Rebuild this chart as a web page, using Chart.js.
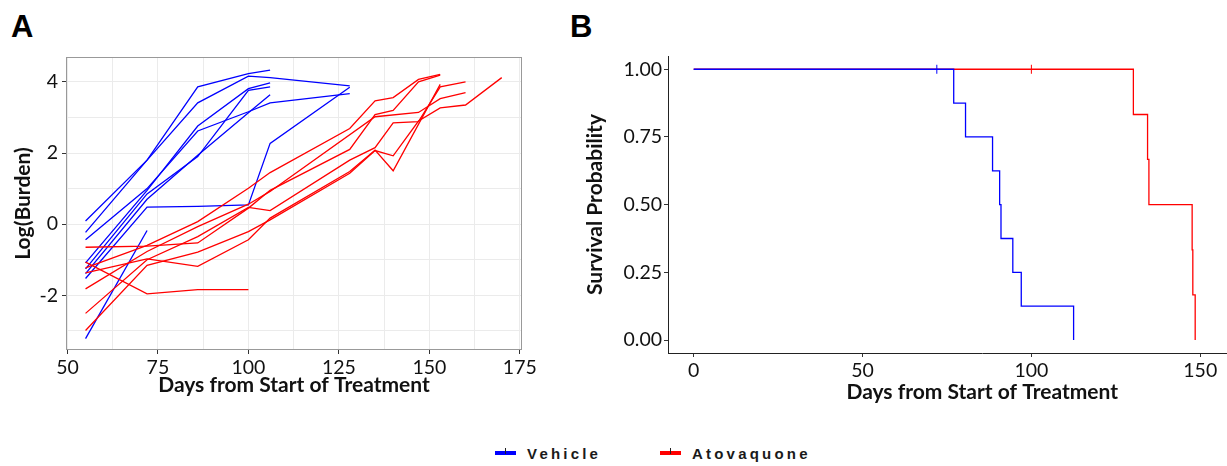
<!DOCTYPE html>
<html>
<head>
<meta charset="utf-8">
<script src="https://cdn.jsdelivr.net/npm/chart.js@4.4.1/dist/chart.umd.min.js"></script>
<style>
  html, body { margin: 0; padding: 0; background: #fff; }
  body { position: relative; width: 1227px; height: 466px; overflow: hidden; }
  .tag { position: absolute; top: 11px; font: bold 31px/1 "Liberation Sans", Arial, sans-serif; color: #000; }
  #boxA { position: absolute; left: 0; top: 0; width: 540px; height: 410px; }
  #boxB { position: absolute; left: 560px; top: 0; width: 742px; height: 410px; }
  .key { position: absolute; top: 444px; height: 20px; font: bold 15px/20px "Liberation Sans", Arial, sans-serif;
         letter-spacing: 3.2px; color: #1a1a1a; white-space: nowrap; }
  .swatch { position: absolute; top: 7px; width: 21px; height: 4px; }
  .swatch::after { content: ""; position: absolute; left: 10px; top: -3px; width: 1px; height: 6px; background: #222; }
</style>
</head>
<body>
<div class="tag" style="left:11px">A</div>
<div class="tag" style="left:570px">B</div>
<div id="boxA"><canvas id="chartA"></canvas></div>
<div id="boxB"><canvas id="chartB"></canvas></div>
<div class="key" style="left:495px"><span class="swatch" style="left:0;background:#0000ff"></span><span style="margin-left:32px">Vehicle</span></div>
<div class="key" style="left:660px"><span class="swatch" style="left:0;background:#ff0000"></span><span style="margin-left:32px">Atovaquone</span></div>

<script>
// Panel A: log burden per animal (one inner list per animal)
const vehicleDays = [
    [55, 72, 86, 100, 106],
    [55, 72, 86, 100, 106, 128],
    [55, 72, 86, 100, 106, 128],
    [55, 72, 86, 100, 106],
    [55, 72, 86, 100, 106],
    [55, 72, 86, 100, 106],
    [55, 72, 86, 100, 106, 128],
    [55, 72]
];
const vehicleBurden = [
    [0.09, 1.80, 3.86, 4.23, 4.33],
    [-0.23, 1.80, 3.41, 4.16, 4.12, 3.89],
    [-0.44, 1.00, 2.62, 3.16, 3.41, 3.67],
    [-1.09, 0.95, 2.76, 3.81, 3.97],
    [-1.26, 0.85, 1.90, 3.76, 3.86],
    [-1.39, 0.70, 1.94, 3.13, 3.64],
    [-1.53, 0.48, 0.50, 0.54, 2.27, 3.85],
    [-3.22, -0.18]
];
const atovDays = [
    [55, 72, 86, 100, 106, 128, 135, 140, 147, 153],
    [55, 72, 86, 100, 106, 128, 135, 140, 147, 153],
    [55, 72, 86, 100, 106, 135, 147, 153, 160],
    [55, 72, 86, 100, 106, 128, 135, 140, 147, 153, 160],
    [55, 72, 86, 100, 106, 128, 135, 140, 153],
    [55, 72, 86, 100, 106, 128, 135, 140, 147, 153, 160, 170],
    [55, 72, 86, 100]
];
const atovBurden = [
    [-1.23, -0.60, 0.07, 1.01, 1.45, 2.69, 3.47, 3.56, 4.07, 4.21],
    [-0.65, -0.62, -0.53, 0.45, 0.95, 2.10, 3.08, 3.20, 4.00, 4.19],
    [-1.82, -0.77, -0.07, 0.56, 0.92, 3.02, 3.14, 3.53, 3.70],
    [-2.51, -1.00, -0.35, 0.47, 0.38, 1.80, 2.15, 2.85, 2.88, 3.86, 4.00],
    [-1.37, -0.98, -1.19, -0.44, 0.17, 1.48, 2.08, 1.50, 3.93],
    [-2.99, -1.16, -0.79, -0.21, 0.12, 1.43, 2.07, 1.92, 2.90, 3.27, 3.35, 4.12],
    [-1.07, -1.96, -1.84, -1.84]
];

// Panel B: Kaplan-Meier steps
const vehicleTime = [0, 77, 80.5, 88.5, 90.6, 91, 94.5, 97, 112.5];
const vehicleSurv = [1, 0.875, 0.75, 0.625, 0.5, 0.375, 0.25, 0.125, 0];
const atovTime = [0, 130.2, 134.4, 134.8, 147.6, 147.8, 148.5];
const atovSurv = [1, 0.833, 0.667, 0.5, 0.333, 0.167, 0];
const vehicleCensor = [72];
const atovCensor = [100];

// Tick labels
const daysTicksA = [50, 75, 100, 125, 150, 175];
const daysMinorA = [62.5, 87.5, 112.5, 137.5, 162.5];
const burdenTicks = [-2, 0, 2, 4];
const burdenMinor = [-3, -1, 1, 3];
const daysTicksB = [0, 50, 100, 150];
const survTicks = [0, 0.25, 0.5, 0.75, 1];

const BLUE = '#0000ff';
const RED = '#ff0000';
const tickFont = { family: 'Lato', size: 19.5 };
const titleFont = { family: 'Lato', size: 21, weight: 'bold' };

Chart.defaults.animation = false;
Chart.defaults.color = '#111';

function animalLines(daysList, valueList, colour) {
    return daysList.map((days, i) => ({
        data: days.map((d, j) => ({ x: d, y: valueList[i][j] })),
        borderColor: colour,
        borderWidth: 1.3,
        pointRadius: 0,
        tension: 0
    }));
}

function setTicks(values) {
    return scale => { scale.ticks = values.slice().sort((a, b) => a - b).map(v => ({ value: v })); };
}

// gray frame round the plotting panel
const panelBorder = {
    id: 'panelBorder',
    afterDatasetsDraw(chart) {
        const { ctx, chartArea: a } = chart;
        ctx.save();
        ctx.strokeStyle = '#999';
        ctx.lineWidth = 1;
        ctx.strokeRect(a.left + 0.5, a.top + 0.5, a.width - 1, a.height - 1);
        ctx.restore();
    }
};

new Chart(document.getElementById('chartA'), {
    type: 'line',
    data: {
        // red first so it sits on top
        datasets: [...animalLines(atovDays, atovBurden, RED), ...animalLines(vehicleDays, vehicleBurden, BLUE)]
    },
    options: {
        responsive: true,
        maintainAspectRatio: false,
        layout: { padding: { top: 57, right: 18, bottom: 9, left: 0 } },
        plugins: { legend: { display: false }, tooltip: { enabled: false } },
        scales: {
            x: {
                type: 'linear', min: 49.6, max: 175.6,
                afterBuildTicks: setTicks([...daysTicksA, ...daysMinorA]),
                afterFit: s => { s.height = 51; },
                ticks: {
                    font: tickFont, padding: 2, maxRotation: 0, autoSkip: false,
                    callback: v => daysTicksA.includes(v) ? String(v) : ''
                },
                grid: {
                    color: '#ebebeb', tickLength: 4,
                    tickColor: c => daysTicksA.includes(c.tick.value) ? '#333' : 'rgba(0,0,0,0)'
                },
                border: { display: false },
                title: { display: true, text: 'Days from Start of Treatment', font: titleFont, padding: { top: 0, bottom: 3 } }
            },
            y: {
                type: 'linear', min: -3.54, max: 4.70,
                afterBuildTicks: setTicks([...burdenTicks, ...burdenMinor]),
                afterFit: s => { s.width = 66; },
                ticks: {
                    font: tickFont, padding: 4, autoSkip: false,
                    callback: v => burdenTicks.includes(v) ? String(v) : ''
                },
                grid: {
                    color: '#ebebeb', tickLength: 4,
                    tickColor: c => burdenTicks.includes(c.tick.value) ? '#333' : 'rgba(0,0,0,0)'
                },
                border: { display: false },
                title: { display: true, text: 'Log(Burden)', font: titleFont, padding: { top: 11, bottom: 0 } }
            }
        }
    },
    plugins: [panelBorder]
});

function kmLine(times, surv, colour) {
    return {
        type: 'line',
        data: times.map((t, i) => ({ x: t, y: surv[i] })),
        borderColor: colour,
        borderWidth: 1.3,
        pointRadius: 0,
        stepped: 'before'
    };
}

function censorMarks(times, colour) {
    return {
        type: 'scatter',
        data: times.map(t => ({ x: t, y: 1 })),
        pointStyle: 'line',
        rotation: 90,
        radius: 4.5,
        borderColor: colour,
        borderWidth: 1
    };
}

new Chart(document.getElementById('chartB'), {
    type: 'line',
    data: {
        datasets: [
            censorMarks(vehicleCensor, BLUE),
            kmLine(vehicleTime, vehicleSurv, BLUE),
            censorMarks(atovCensor, RED),
            kmLine(atovTime, atovSurv, RED)
        ]
    },
    options: {
        responsive: true,
        maintainAspectRatio: false,
        layout: { padding: { top: 56, right: 0, bottom: 2, left: 0 } },
        plugins: { legend: { display: false }, tooltip: { enabled: false } },
        scales: {
            x: {
                type: 'linear', min: -7.6, max: 178.5,
                afterBuildTicks: setTicks(daysTicksB),
                afterFit: s => { s.height = 55; },
                ticks: { font: tickFont, padding: 2, maxRotation: 0, autoSkip: false, callback: v => String(v) },
                grid: { drawOnChartArea: false, tickLength: 4, tickColor: '#333' },
                border: { display: true, color: '#222', width: 1 },
                title: { display: true, text: 'Days from Start of Treatment', font: titleFont, padding: { top: 0, bottom: 3 } }
            },
            y: {
                type: 'linear', min: -0.048, max: 1.049,
                afterBuildTicks: setTicks(survTicks),
                afterFit: s => { s.width = 108; },
                ticks: { font: tickFont, padding: 2, autoSkip: false, callback: v => v.toFixed(2) },
                grid: { drawOnChartArea: false, tickLength: 4, tickColor: '#333' },
                border: { display: true, color: '#222', width: 1 },
                title: { display: true, text: 'Survival Probability', font: titleFont, padding: { top: 23, bottom: 0 } }
            }
        }
    }
});
</script>
</body>
</html>
